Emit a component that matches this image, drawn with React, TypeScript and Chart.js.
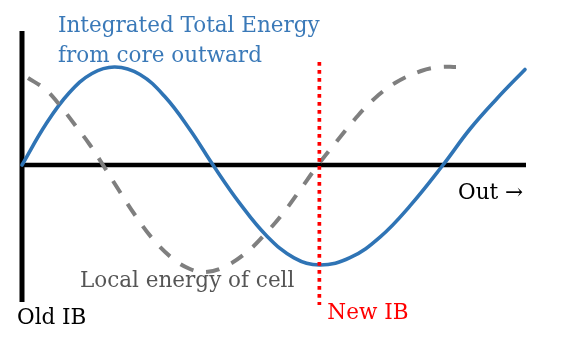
import React, { useEffect, useRef } from "react";
import { Chart, registerables } from "chart.js";

Chart.register(...registerables);

// Integrated total energy (blue solid curve)
const BLUE_X = [0, 0.476, 0.933, 1.389, 1.845, 2.341, 2.837, 3.333, 3.79, 4.325, 4.861, 5.397, 5.913, 6.508, 7.103, 7.698, 8.353, 8.889, 9.425, 9.98];
const BLUE_Y = [0, 0.41, 0.72, 0.915, 0.98, 0.905, 0.682, 0.353, 0, -0.386, -0.712, -0.928, -1.0, -0.927, -0.721, -0.409, 0, 0.36, 0.665, 0.955];

// Local energy of cell (gray dashed curve)
const GRAY_X = [0.119, 0.456, 0.714, 1.052, 1.349, 1.607, 1.944, 2.242, 2.579, 2.976, 3.333, 3.631, 4.008, 4.464, 4.861, 5.198, 5.516, 5.873, 6.25, 6.607, 6.964, 7.401, 7.917, 8.294, 8.611];
const GRAY_Y = [0.87, 0.76, 0.62, 0.4, 0.2, 0, -0.27, -0.5, -0.73, -0.93, -1.04, -1.07, -1.02, -0.87, -0.67, -0.47, -0.25, 0, 0.24, 0.46, 0.65, 0.82, 0.94, 0.98, 0.98];

// Axes extents and "New IB" marker
const X_AXIS_RANGE = [0, 10];
const Y_AXIS_RANGE = [1.34, -1.37];
const NEW_IB_X = 5.9;
const NEW_IB_Y_RANGE = [1.03, -1.4];

const TITLE_LINES = ["Integrated Total Energy", "from core outward"];
const LOCAL_LABEL = "Local energy of cell";
const OUT_LABEL = "Out \u2192";
const OLD_IB_LABEL = "Old IB";
const NEW_IB_LABEL = "New IB";

const BLUE = "#2f74b5";
const BLUE_TEXT = "#3a79b8";
const GRAY = "#7f7f7f";
const GRAY_TEXT = "#555555";
const RED = "#ff0000";

const toPoints = (xs: number[], ys: number[]) => xs.map((x, i) => ({ x, y: ys[i] }));

const textPlugin = {
  id: "labels",
  afterDraw(chart: any) {
    const ctx = chart.ctx as CanvasRenderingContext2D;
    const xs = chart.scales.x;
    ctx.save();
    ctx.font = '21.5px "DejaVu Serif", serif';
    ctx.textBaseline = "alphabetic";
    ctx.textAlign = "left";
    ctx.fillStyle = BLUE_TEXT;
    ctx.fillText(TITLE_LINES[0], 58, 32);
    ctx.fillText(TITLE_LINES[1], 58, 62);
    ctx.fillStyle = "#000000";
    ctx.fillText(OUT_LABEL, 458, 199);
    ctx.fillText(OLD_IB_LABEL, 17, 324);
    ctx.fillStyle = GRAY_TEXT;
    ctx.fillText(LOCAL_LABEL, 80, 287);
    ctx.fillStyle = RED;
    ctx.fillText(NEW_IB_LABEL, xs.getPixelForValue(NEW_IB_X) + 8, 319);
    ctx.restore();
  },
};

export default function App() {
  const canvasRef = useRef<HTMLCanvasElement | null>(null);

  useEffect(() => {
    if (!canvasRef.current) return;
    const chart = new Chart(canvasRef.current, {
      type: "line",
      data: {
        datasets: [
          {
            label: "New IB",
            data: [
              { x: NEW_IB_X, y: NEW_IB_Y_RANGE[0] },
              { x: NEW_IB_X, y: NEW_IB_Y_RANGE[1] },
            ],
            borderColor: RED,
            borderWidth: 3.7,
            borderDash: [3.7, 4.3],
            borderCapStyle: "butt",
            pointRadius: 0,
            tension: 0,
            order: 0,
            clip: false,
          } as any,
          {
            label: "Local energy of cell",
            data: toPoints(GRAY_X, GRAY_Y),
            borderColor: GRAY,
            borderWidth: 4,
            borderDash: [14, 13],
            borderCapStyle: "butt",
            pointRadius: 0,
            tension: 0.4,
            order: 1,
            clip: false,
          } as any,
          {
            label: "Integrated Total Energy",
            data: toPoints(BLUE_X, BLUE_Y),
            borderColor: BLUE,
            borderWidth: 3.6,
            borderCapStyle: "round",
            pointRadius: 0,
            tension: 0.4,
            order: 2,
            clip: false,
          } as any,
          {
            label: "x-axis",
            data: [
              { x: X_AXIS_RANGE[0], y: 0 },
              { x: X_AXIS_RANGE[1], y: 0 },
            ],
            borderColor: "#000000",
            borderWidth: 4.5,
            borderCapStyle: "butt",
            pointRadius: 0,
            tension: 0,
            order: 3,
            clip: false,
          } as any,
          {
            label: "y-axis",
            data: [
              { x: 0, y: Y_AXIS_RANGE[0] },
              { x: 0, y: Y_AXIS_RANGE[1] },
            ],
            borderColor: "#000000",
            borderWidth: 5,
            borderCapStyle: "butt",
            pointRadius: 0,
            tension: 0,
            order: 3,
            clip: false,
          } as any,
        ],
      },
      options: {
        animation: false,
        responsive: false,
        maintainAspectRatio: false,
        layout: { padding: { left: 22, right: 49, top: 31, bottom: 42 } },
        plugins: {
          legend: { display: false },
          tooltip: { enabled: false },
          title: { display: false },
        },
        events: [],
        scales: {
          x: { type: "linear", min: 0, max: 10, display: false },
          y: { type: "linear", min: -1.4, max: 1.34, display: false },
        },
      },
      plugins: [textPlugin],
    });
    return () => chart.destroy();
  }, []);

  return (
    <div style={{ position: "fixed", left: 0, top: 0, width: 575, height: 347, background: "#ffffff" }}>
      <canvas ref={canvasRef} width={575} height={347} style={{ display: "block", width: 575, height: 347 }} />
    </div>
  );
}
